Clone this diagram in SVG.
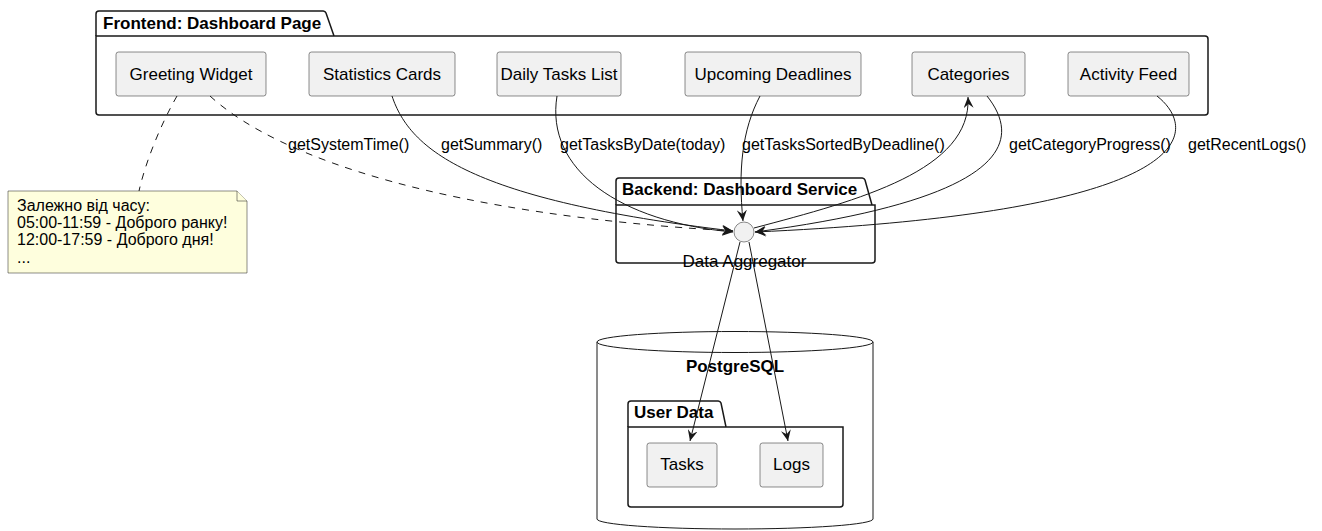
<svg xmlns="http://www.w3.org/2000/svg" width="1322" height="531" viewBox="0 0 1322 531">
  <style>
    text { font-family: "Liberation Sans", Arial, sans-serif; fill: #000; }
    .pkg { fill: #ffffff; stroke: #181818; stroke-width: 1.5; }
    .pkgtitle { font-weight: bold; font-size: 17px; }
    .node { fill: #f1f1f1; stroke: #181818; stroke-width: 0.5; }
    .label { font-size: 16px; }
    .nodetext { font-size: 17px; text-anchor: middle; }
    .edge { fill: none; stroke: #181818; stroke-width: 1; }
    .dashed { stroke-dasharray: 7 7; }
    .note { fill: #fefedd; stroke: #181818; stroke-width: 0.5; }
    .notetext { font-size: 16px; }
  </style>
  <defs>
    <marker id="arrow" viewBox="0 0 12 10" refX="11" refY="5" markerWidth="12" markerHeight="10" markerUnits="userSpaceOnUse" orient="auto">
      <path d="M0,0 L11,5 L0,10 L4,5 Z" fill="#181818"/>
    </marker>
  </defs>
  <rect width="1322" height="531" fill="#ffffff"/>

  <!-- Frontend package -->
  <g id="frontend">
    <path class="pkg" d="M96,36 V14 a3,3 0 0 1 3,-3 H323 a3,3 0 0 1 3,2 L334,36"/>
    <path class="pkg" d="M96,36 H1205 a3,3 0 0 1 3,3 V112 a3,3 0 0 1 -3,3 H99 a3,3 0 0 1 -3,-3 Z"/>
    <text class="pkgtitle" x="103" y="29">Frontend: Dashboard Page</text>
  </g>

  <g id="greeting">
    <rect class="node" x="116" y="52" width="150" height="44" rx="2.5"/>
    <text class="nodetext" x="191" y="80">Greeting Widget</text>
  </g>
  <g id="stats">
    <rect class="node" x="309" y="52" width="146" height="44" rx="2.5"/>
    <text class="nodetext" x="382" y="80">Statistics Cards</text>
  </g>
  <g id="daily">
    <rect class="node" x="497" y="52" width="124" height="44" rx="2.5"/>
    <text class="nodetext" x="559" y="80">Daily Tasks List</text>
  </g>
  <g id="deadlines">
    <rect class="node" x="685" y="52" width="176" height="44" rx="2.5"/>
    <text class="nodetext" x="773" y="80">Upcoming Deadlines</text>
  </g>
  <g id="categories">
    <rect class="node" x="912" y="52" width="113" height="44" rx="2.5"/>
    <text class="nodetext" x="968.5" y="80">Categories</text>
  </g>
  <g id="activity">
    <rect class="node" x="1068" y="52" width="121" height="44" rx="2.5"/>
    <text class="nodetext" x="1128.5" y="80">Activity Feed</text>
  </g>

  <!-- Backend package -->
  <g id="backend">
    <path class="pkg" d="M616,205 V181 a3,3 0 0 1 3,-3 H862 a3,3 0 0 1 3,2 L872,205"/>
    <path class="pkg" d="M616,205 H875 V260 a3,3 0 0 1 -3,3 H619 a3,3 0 0 1 -3,-3 Z"/>
    <text class="pkgtitle" x="622" y="195">Backend: Dashboard Service</text>
  </g>
  <g id="aggregator">
    <circle cx="744" cy="232" r="10" fill="#f1f1f1" stroke="#181818" stroke-width="0.5"/>
    <text class="nodetext" x="744.5" y="267">Data Aggregator</text>
  </g>

  <!-- Database -->
  <g id="postgres">
    <path fill="#ffffff" stroke="#181818" stroke-width="1" d="M597,342 V519 A138,10 0 0 0 873,519 V342"/>
    <ellipse cx="735" cy="342" rx="138" ry="10.5" fill="#ffffff" stroke="#181818" stroke-width="1"/>
    <text class="pkgtitle" x="735" y="372" text-anchor="middle">PostgreSQL</text>
  </g>
  <g id="userdata">
    <path class="pkg" d="M628,427 V404 a3,3 0 0 1 3,-3 H718 a3,3 0 0 1 3,2 L726,427"/>
    <path class="pkg" d="M628,427 H843 V504 a3,3 0 0 1 -3,3 H631 a3,3 0 0 1 -3,-3 Z"/>
    <text class="pkgtitle" x="634" y="418">User Data</text>
  </g>
  <g id="tasks">
    <rect class="node" x="647" y="443" width="70" height="44" rx="2.5"/>
    <text class="nodetext" x="682" y="470">Tasks</text>
  </g>
  <g id="logs">
    <rect class="node" x="760" y="443" width="63" height="44" rx="2.5"/>
    <text class="nodetext" x="791.5" y="470">Logs</text>
  </g>

  <!-- Note -->
  <g id="note">
    <path class="note" d="M8,191 H237 L247,201 V273 H8 Z"/>
    <path class="note" d="M237,191 V201 H247"/>
    <text class="notetext" x="17" y="211">Залежно від часу:</text>
    <text class="notetext" x="17" y="228">05:00-11:59 - Доброго ранку!</text>
    <text class="notetext" x="17" y="245">12:00-17:59 - Доброго дня!</text>
    <text class="notetext" x="17" y="263">...</text>
  </g>

  <!-- Connectors -->
  <g id="connectors">
    <path class="edge dashed" d="M177,96 C162,122 146,160 139,191"/>
    <path class="edge dashed" d="M210,96 C280,160 450,215 733,231" marker-end="url(#arrow)"/>
    <path class="edge" d="M392,96 C410,150 470,200 733,231" marker-end="url(#arrow)"/>
    <path class="edge" d="M557,96 C545,170 620,222 733,232" marker-end="url(#arrow)"/>
    <path class="edge" d="M760,96 C742,130 738,170 743,221" marker-end="url(#arrow)"/>
    <path class="edge" d="M754,228 C860,200 972,170 968,97" marker-end="url(#arrow)"/>
    <path class="edge" d="M987,96 C1022,140 1012,198 755,232" marker-end="url(#arrow)"/>
    <path class="edge" d="M1157,96 C1200,130 1205,212 755,232" marker-end="url(#arrow)"/>
    <path class="edge" d="M740,242 L690,441" marker-end="url(#arrow)"/>
    <path class="edge" d="M749,242 L788,441" marker-end="url(#arrow)"/>

    <text class="label" x="288" y="150">getSystemTime()</text>
    <text class="label" x="441" y="150">getSummary()</text>
    <text class="label" x="560" y="150">getTasksByDate(today)</text>
    <text class="label" x="742" y="150">getTasksSortedByDeadline()</text>
    <text class="label" x="1009" y="150">getCategoryProgress()</text>
    <text class="label" x="1188" y="150">getRecentLogs()</text>
  </g>
</svg>
